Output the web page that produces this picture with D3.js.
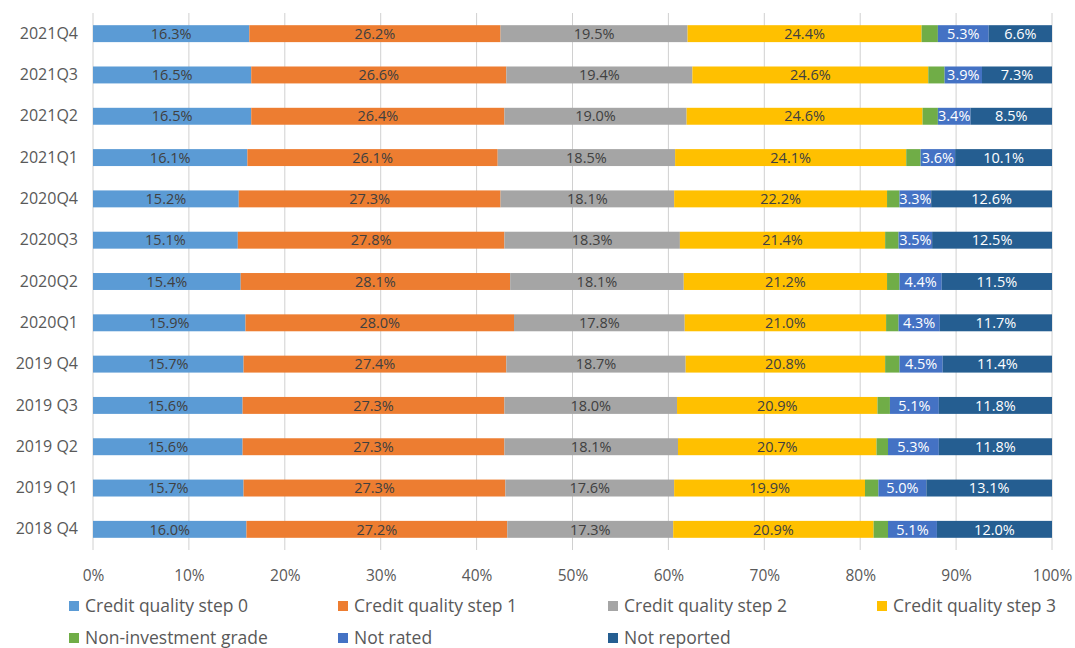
<!DOCTYPE html>
<html><head><meta charset="utf-8">
<script src="https://cdn.jsdelivr.net/npm/d3@7"></script>
<style>body{margin:0;background:#fff;} text{font-family:"Open Sans","Liberation Sans",sans-serif;}</style>
</head><body>
<svg id="c" width="1075" height="648"></svg>
<script>
const categories = ["2021Q4","2021Q3","2021Q2","2021Q1","2020Q4","2020Q3","2020Q2","2020Q1","2019 Q4","2019 Q3","2019 Q2","2019 Q1","2018 Q4"];
const seriesNames = ["Credit quality step 0","Credit quality step 1","Credit quality step 2","Credit quality step 3","Non-investment grade","Not rated","Not reported"];
const step0 = [16.3,16.5,16.5,16.1,15.2,15.1,15.4,15.9,15.7,15.6,15.6,15.7,16.0];
const step1 = [26.2,26.6,26.4,26.1,27.3,27.8,28.1,28.0,27.4,27.3,27.3,27.3,27.2];
const step2 = [19.5,19.4,19.0,18.5,18.1,18.3,18.1,17.8,18.7,18.0,18.1,17.6,17.3];
const step3 = [24.4,24.6,24.6,24.1,22.2,21.4,21.2,21.0,20.8,20.9,20.7,19.9,20.9];
const nonInv = [1.7,1.7,1.6,1.5,1.3,1.4,1.3,1.3,1.5,1.3,1.2,1.4,1.5];
const notRated = [5.3,3.9,3.4,3.6,3.3,3.5,4.4,4.3,4.5,5.1,5.3,5.0,5.1];
const notReported = [6.6,7.3,8.5,10.1,12.6,12.5,11.5,11.7,11.4,11.8,11.8,13.1,12.0];
const xTicks = [0,0.1,0.2,0.3,0.4,0.5,0.6,0.7,0.8,0.9,1.0];

const seriesValues = [step0,step1,step2,step3,nonInv,notRated,notReported];
const colors = ["#5B9BD5","#ED7D31","#A5A5A5","#FFC000","#70AD47","#4472C4","#255E91"];
const labelColors = ["#404040","#404040","#404040","#404040",null,"#ffffff","#ffffff"];
const showLabel = [true,true,true,true,false,true,true];

const svg = d3.select("#c");
const x = d3.scaleLinear().domain([0,1]).range([93,1052]);
const y = d3.scaleBand().domain(categories).range([13,550]).paddingInner(0.59).paddingOuter(0.295);

// gridlines
svg.append("g").selectAll("line").data(xTicks).join("line")
  .attr("x1",d=>x(d)).attr("x2",d=>x(d)).attr("y1",13).attr("y2",550)
  .attr("stroke","#d0d0d0").attr("stroke-width",1);

// axis labels
const xAxis = d3.axisBottom(x).tickValues(xTicks).tickFormat(d3.format(".0%")).tickSize(0).tickPadding(0);
const gx = svg.append("g").attr("transform","translate(0,581)").call(xAxis);
gx.select(".domain").remove();
gx.selectAll("text").attr("fill","#595959").style("font-size","15.5px").attr("dy","0");

const yAxis = d3.axisLeft(y).tickSize(0).tickPadding(0);
const gy = svg.append("g").attr("transform","translate(78,0)").call(yAxis);
gy.select(".domain").remove();
gy.selectAll("text").attr("fill","#595959").style("font-size","16px");

// stacked data
const rows = categories.map((c,i)=>{
  const o = {cat:c};
  seriesNames.forEach((s,j)=>o[s]=seriesValues[j][i]/100);
  return o;
});
const stack = d3.stack().keys(seriesNames)(rows);

stack.forEach((layer,j)=>{
  const g = svg.append("g");
  g.selectAll("rect").data(layer).join("rect")
    .attr("x",d=>x(d[0])).attr("width",d=>x(d[1])-x(d[0]))
    .attr("y",d=>y(d.data.cat)).attr("height",y.bandwidth())
    .attr("fill",colors[j]);
  if(showLabel[j]){
    g.selectAll("text").data(layer).join("text")
      .attr("x",d=>(x(d[0])+x(d[1]))/2).attr("y",d=>y(d.data.cat)+y.bandwidth()/2)
      .attr("dy","0.36em").attr("text-anchor","middle")
      .attr("fill",labelColors[j]).style("font-size","14.5px")
      .text(d=>(d[1]-d[0]).toLocaleString("en",{minimumFractionDigits:1,maximumFractionDigits:1,style:"percent"}));
  }
});

// legend
const legX = [69,338,608,877];
const legY = [606,638];
seriesNames.forEach((s,j)=>{
  const col = j%4, row = Math.floor(j/4);
  const g = svg.append("g").attr("transform",`translate(${legX[col]},${legY[row]})`);
  g.append("rect").attr("x",0).attr("y",-5).attr("width",10).attr("height",10).attr("fill",colors[j]);
  g.append("text").attr("x",16).attr("y",0).attr("dy","0.35em").attr("fill","#595959").style("font-size","17.5px").text(s);
});
</script>
</body></html>
